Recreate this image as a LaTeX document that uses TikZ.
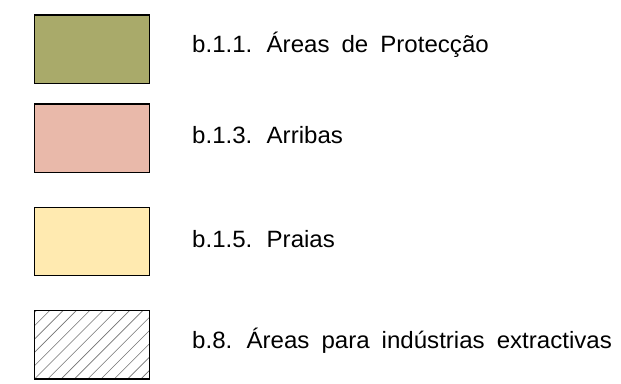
\documentclass[tikz,border=0pt]{standalone}
\usepackage{fontspec}
\setmainfont{Liberation Sans}[WordSpace=1.8]
\definecolor{olivefill}{HTML}{A9AA6A}
\definecolor{pinkfill}{HTML}{E9B9AA}
\definecolor{yellowfill}{HTML}{FFEAB0}
\tikzset{
  legbox/.style={draw=black, line width=1.2pt},
  legtext/.style={anchor=base west, inner sep=0pt, xscale=1.02, font=\fontsize{23.6}{28}\selectfont},
  hatchline/.style={draw=black!55, line width=0.6pt}
}
\begin{document}
\begin{tikzpicture}[x=1pt,y=-1pt]
\useasboundingbox (0,0) rectangle (621,383);
\fill[white] (0,0) rectangle (621,383);
\path[legbox, fill=olivefill] (34.5,15) rectangle (149.5,83.5);
\node[legtext] (t1) at (192,52) {b.1.1. Áreas de Protecção};
\path[legbox, fill=pinkfill] (34.5,104) rectangle (149.5,172.5);
\node[legtext] (t2) at (192,143) {b.1.3. Arribas};
\path[legbox, fill=yellowfill] (34.5,207.5) rectangle (149.5,275.5);
\node[legtext] (t3) at (192,247) {b.1.5. Praias};
\begin{scope}
\clip (34.5,310.5) rectangle (149.5,379);
\foreach \k in {-6,...,9} {
  \draw[hatchline] ({34.5+\k*13.3},379) -- ++(80,-80);
}
\end{scope}
\path[legbox] (34.5,310.5) rectangle (149.5,379);
\node[legtext] (t4) at (192,348) {b.8. Áreas para indústrias extractivas};
\end{tikzpicture}
\end{document}
